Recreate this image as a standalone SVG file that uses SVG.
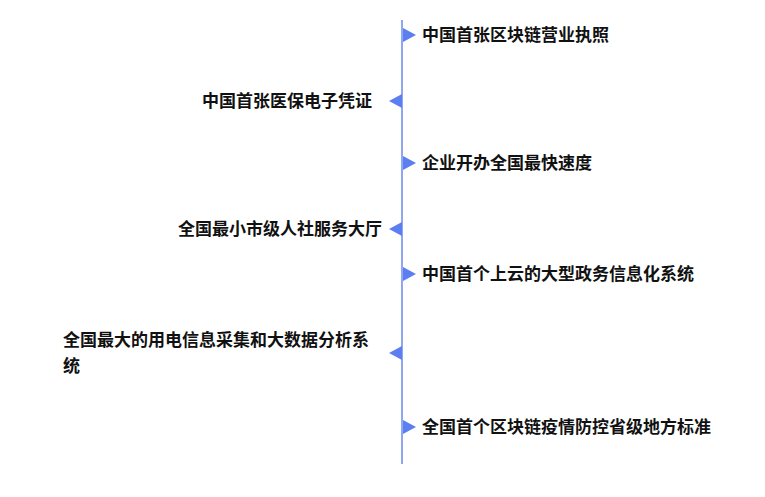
<svg xmlns="http://www.w3.org/2000/svg" width="765" height="497" viewBox="0 0 765 497">
<style>
text{font-family:"Noto Sans CJK SC","Liberation Sans",sans-serif;font-size:17px;font-weight:bold;fill:#111}
.r{fill:#5b7ff0}
</style>
<rect width="765" height="497" fill="#fff"/>
<g id="connectors"><line x1="402" y1="20" x2="402" y2="464" stroke="#6c88ee" stroke-width="1.5"/></g>
<g id="n1"><polygon class="r" points="403,28 416,35 403,42"/><text x="422" y="41">中国首张区块链营业执照</text></g>
<g id="n2"><polygon class="r" points="402,94 389,101 402,108"/><text x="372" y="107" text-anchor="end">中国首张医保电子凭证</text></g>
<g id="n3"><polygon class="r" points="403,156 416,163 403,170"/><text x="422" y="169">企业开办全国最快速度</text></g>
<g id="n4"><polygon class="r" points="402,222 389,229 402,236"/><text x="382" y="235" text-anchor="end">全国最小市级人社服务大厅</text></g>
<g id="n5"><polygon class="r" points="403,267 416,274 403,281"/><text x="422" y="280">中国首个上云的大型政务信息化系统</text></g>
<g id="n6"><polygon class="r" points="402,346 389,353 402,360"/><text x="63" y="346">全国最大的用电信息采集和大数据分析系</text><text x="63" y="372">统</text></g>
<g id="n7"><polygon class="r" points="403,420 416,427 403,434"/><text x="422" y="433">全国首个区块链疫情防控省级地方标准</text></g>
</svg>
